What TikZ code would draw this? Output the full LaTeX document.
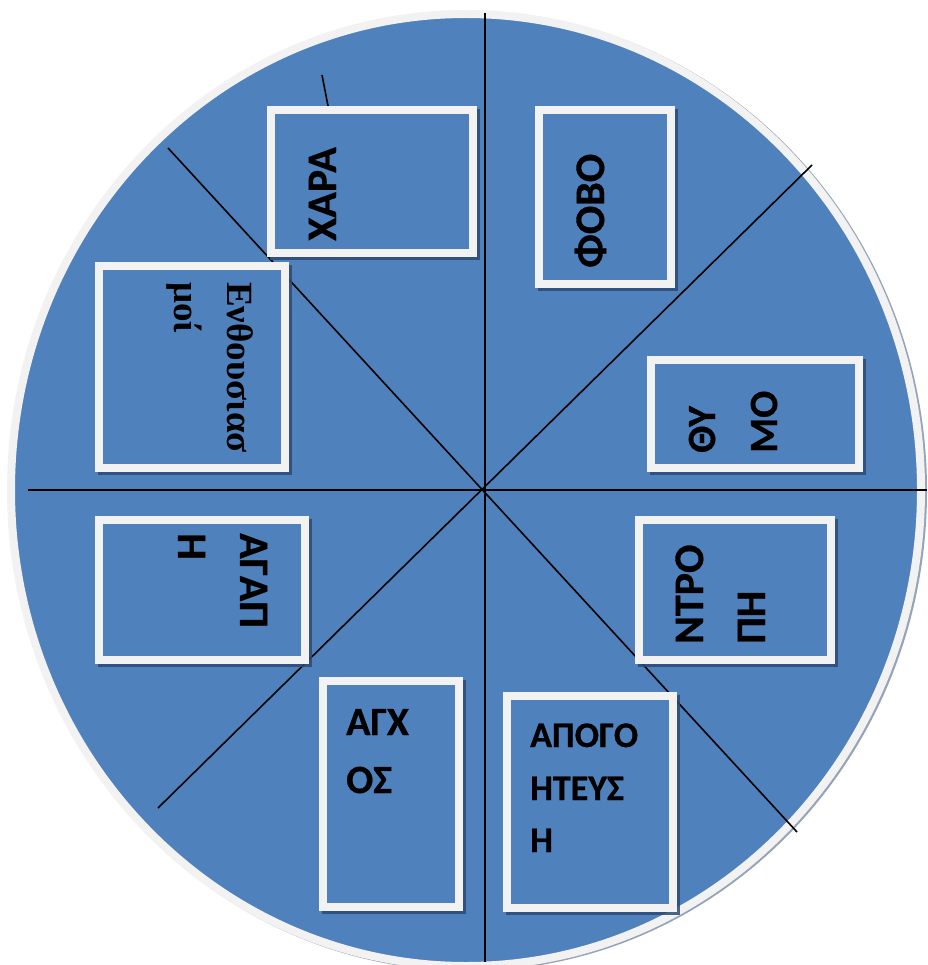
\documentclass[tikz,border=0pt]{standalone}
\usepackage{fontspec}
\setmainfont{Carlito}[BoldFeatures={FakeBold=0.7}]
\newfontfamily\grserif{Liberation Serif}
\definecolor{fillblue}{HTML}{4F81BD}
\definecolor{rimgray}{HTML}{F2F2F2}
\definecolor{shadeblue}{HTML}{2C4A73}
\tikzset{
  boxst/.style={draw=rimgray, line width=8pt, fill=fillblue, inner sep=0pt, outer sep=0pt},
  shd/.style={fill=shadeblue, opacity=0.85},
  wheelshd/.style={fill=shadeblue, opacity=0.5},
  sepline/.style={draw=black, line width=1.6pt},
  lblbig/.style={font=\fontsize{42}{42}\selectfont\bfseries, inner sep=0pt, text=black},
  lblmid/.style={font=\fontsize{40}{40}\selectfont\bfseries, inner sep=0pt, text=black},
  lblsmall/.style={font=\fontsize{36}{36}\selectfont\bfseries, inner sep=0pt, text=black},
  lblserif/.style={font=\grserif\fontsize{37}{37}\selectfont\bfseries, inner sep=0pt, text=black},
}
\newcommand\mybox[5]{%
  \fill[shd] ({#2+3},{#3+3}) rectangle ({#4+3},{#5+3});
  \node[boxst, minimum width={#4-#2-8}, minimum height={#5-#3-8}] (#1) at ({(#2+#4)/2},{(#3+#5)/2}) {};
}
\begin{document}
\begin{tikzpicture}[x=1pt,y=-1pt]
\useasboundingbox (0,0) rectangle (927,965);
\clip (0,0) rectangle (927,965);
\fill[white] (0,0) rectangle (927,965);
% wheel
\fill[wheelshd] (468,491) ellipse [x radius=459, y radius=480];
\fill[fillblue] (466,490) ellipse [x radius=455, y radius=476];
\draw[rimgray, line width=8pt] (466,490) ellipse [x radius=455, y radius=476];
% dividing lines
\coordinate (vt) at (485,13);
\coordinate (vb) at (485,962);
\coordinate (hl) at (28,490);
\coordinate (hr) at (927,490);
\coordinate (d1a) at (168,148);
\coordinate (d1b) at (797,832);
\coordinate (d2a) at (812,165);
\coordinate (d2b) at (158,808);
\coordinate (ta) at (322,75);
\coordinate (tb) at (329,111);
\draw[sepline] (vt) -- (vb);
\draw[sepline] (hl) -- (hr);
\draw[sepline] (d1a) -- (d1b);
\draw[sepline] (d2a) -- (d2b);
\draw[sepline] (ta) -- (tb);
% boxes
\mybox{bxara}{267}{106}{477}{257}
\mybox{benth}{95}{262}{289}{472}
\mybox{bthymo}{647}{356}{863}{472}
\mybox{bntropi}{635}{516}{835}{664}
\mybox{bagapi}{95}{516}{309}{664}
\mybox{bagxos}{319}{677}{463}{911}
\mybox{bapog}{503}{692}{677}{912}
\mybox{bfovo}{535}{106}{675}{288}
% labels
\node[lblbig, rotate=90, anchor=base west] (txara) at (336,241) {ΧΑΡΑ};
\node[lblbig, rotate=90, anchor=base west] (tfovo) at (604,268) {ΦΟΒΟ};
\node[lblmid, rotate=90, anchor=base west] (tthy) at (715,453) {ΘΥ};
\node[lblmid, rotate=90, anchor=base west] (tmo) at (777,453) {ΜΟ};
\node[lblbig, rotate=90, anchor=base west] (tntro) at (703,644) {ΝΤΡΟ};
\node[lblbig, rotate=90, anchor=base west] (tpi) at (765,644) {ΠΗ};
\node[lblbig, rotate=-90, anchor=base west] (tagap) at (240,533) {ΑΓΑΠ};
\node[lblbig, rotate=-90, anchor=base west] (teta) at (178,533) {Η};
\node[lblserif, rotate=-90, anchor=base west] (tenth) at (227,282) {Ενθουσιασ};
\node[lblserif, rotate=-90, anchor=base west] (tmoi) at (174,282) {μοί};
\node[lblmid, anchor=base west] (tagx) at (346,735) {ΑΓΧ};
\node[lblmid, anchor=base west] (tos) at (346,793) {ΟΣ};
\node[lblsmall, anchor=base west] (tapogo) at (530,747) {ΑΠΟΓΟ};
\node[lblsmall, anchor=base west] (titeys) at (530,800) {ΗΤΕΥΣ};
\node[lblsmall, anchor=base west] (tiend) at (530,852) {Η};
\end{tikzpicture}
\end{document}
